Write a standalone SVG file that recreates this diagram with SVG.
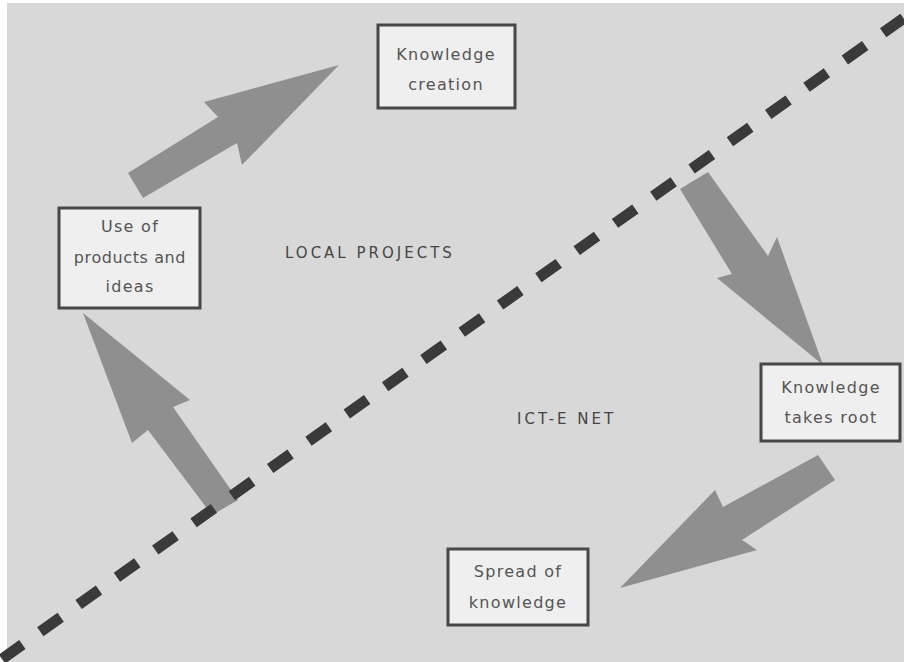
<svg xmlns="http://www.w3.org/2000/svg" width="904" height="662" viewBox="0 0 904 662">
  <style>
    .box { fill: #efefef; stroke: #474747; stroke-width: 3; }
    .lbl { font-family: "DejaVu Sans", "Liberation Sans", sans-serif; font-size: 16px; fill: #555555; text-anchor: middle; letter-spacing: 1.3px; }
    .zone { font-family: "DejaVu Sans", "Liberation Sans", sans-serif; font-size: 15px; fill: #454545; letter-spacing: 3px; }
    .flow { fill: #8f8f8f; }
    .divider { fill: none; stroke: #3a3a3a; stroke-width: 11; stroke-dasharray: 25 22; }
  </style>

  <!-- page -->
  <rect x="0" y="0" width="904" height="662" fill="#ffffff"/>
  <rect x="7" y="3" width="897" height="659" fill="#d8d8d8"/>

  <!-- region labels -->
  <text class="zone" x="285" y="258">LOCAL PROJECTS</text>
  <text class="zone" x="517" y="424">ICT-E NET</text>

  <g id="connectors">
    <!-- block arrows of the cycle -->
    <polygon class="flow" points="128,173 218,117 204,102 339,65 242,165 237,143 143,198"/>
    <polygon class="flow" points="680,189 708,172 768,256 777,237 823,365 717,278 732,274"/>
    <polygon class="flow" points="818,455 723,507 715,490 620,588 757,550 742,540 835,480"/>
    <polygon class="flow" points="83,313 190,400 173,407 238,500 212,515 148,430 132,443"/>
    <!-- boundary between local projects and the network -->
    <line class="divider" x1="2" y1="659" x2="904" y2="18"/>
  </g>

  <g id="knowledge-creation">
    <rect class="box" x="378" y="25" width="137" height="83"/>
    <text class="lbl" x="446" y="60">Knowledge</text>
    <text class="lbl" x="446" y="90">creation</text>
  </g>

  <g id="use-of-products">
    <rect class="box" x="59" y="208" width="141" height="100"/>
    <text class="lbl" x="130" y="232">Use of</text>
    <text class="lbl" x="130" y="263" style="letter-spacing:0.6px">products and</text>
    <text class="lbl" x="130" y="292">ideas</text>
  </g>

  <g id="knowledge-takes-root">
    <rect class="box" x="761" y="364" width="139" height="77"/>
    <text class="lbl" x="831" y="393">Knowledge</text>
    <text class="lbl" x="831" y="423">takes root</text>
  </g>

  <g id="spread-of-knowledge">
    <rect class="box" x="448" y="549" width="140" height="76"/>
    <text class="lbl" x="518" y="577">Spread of</text>
    <text class="lbl" x="518" y="608">knowledge</text>
  </g>
</svg>
